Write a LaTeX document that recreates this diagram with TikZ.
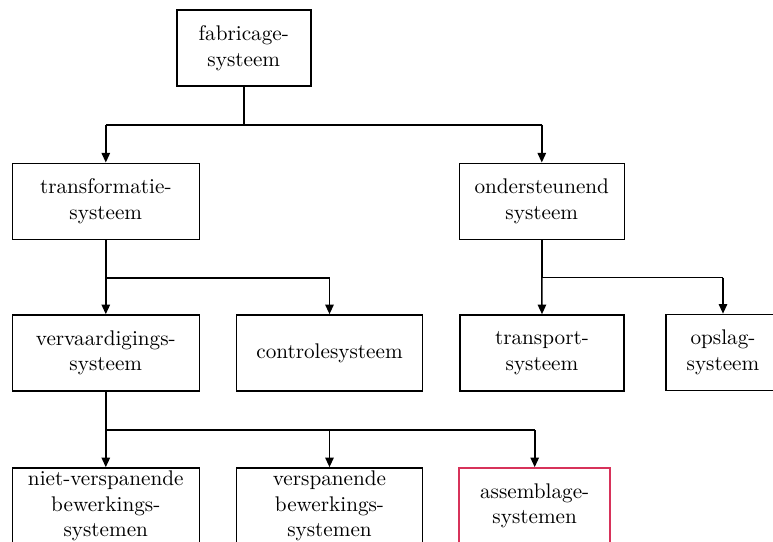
\documentclass[tikz,border=0pt]{standalone}
\usetikzlibrary{arrows.meta}
\definecolor{accent}{RGB}{215,50,90}
\begin{document}
\begin{tikzpicture}[x=0.5pt,y=-0.5pt,
  sysbox/.style={draw, line width=0.8pt, minimum height=38pt, inner sep=0pt,
    align=center, font=\fontsize{10.6}{12.75}\selectfont},
  link/.style={line width=0.8pt},
  feed/.style={line width=0.8pt, -{Triangle[width=4.2pt,length=4.8pt]}}]
  \useasboundingbox (0,0) rectangle (773,542);
  \clip (0,0) rectangle (773,542);

  % boxes
  \node[sysbox, minimum width=67pt]   (fab)    at (243.8,48)   {fabricage-\\systeem};
  \node[sysbox, minimum width=93.5pt] (trans)  at (105.8,201.3) {transformatie-\\systeem};
  \node[sysbox, minimum width=82.5pt] (onder)  at (541.8,201.3) {ondersteunend\\systeem};
  \node[sysbox, minimum width=93.5pt] (verv)   at (105.8,353)  {vervaardigings-\\systeem};
  \node[sysbox, minimum width=93pt]   (contr)  at (329.5,353)  {controlesysteem};
  \node[sysbox, minimum width=82pt]   (transp) at (542,353)    {transport-\\systeem};
  \node[sysbox, minimum width=57pt]   (opslag) at (723,352.5)  {opslag-\\systeem};
  \node[sysbox, minimum width=93.5pt] (niet)   at (105.8,506)  {niet-verspanende\\bewerkings-\\systemen};
  \node[sysbox, minimum width=93pt]   (versp)  at (329.5,506)  {verspanende\\bewerkings-\\systemen};
  \node[sysbox, minimum width=75.5pt, draw=accent] (assem) at (534.7,506) {assemblage-\\systemen};

  % branch points
  \coordinate (b1) at (243.8,124.7);
  \coordinate (b2) at (105.8,277.7);
  \coordinate (b3) at (541.8,277.5);
  \coordinate (b4) at (105.8,430);

  % fabricagesysteem
  \draw[link] (fab.south) -- (b1);
  \draw[link] (trans.north |- b1) -- (onder.north |- b1);
  \draw[feed] (trans.north |- b1) -- (trans.north);
  \draw[feed] (onder.north |- b1) -- (onder.north);

  % transformatiesysteem
  \draw[link] (trans.south) -- (b2);
  \draw[link] (b2) -- (contr.north |- b2);
  \draw[feed] (b2) -- (verv.north);
  \draw[feed] (contr.north |- b2) -- (contr.north);

  % ondersteunend systeem
  \draw[link] (onder.south) -- (b3);
  \draw[link] (b3) -- (opslag.north |- b3);
  \draw[feed] (b3) -- (transp.north);
  \draw[feed] (opslag.north |- b3) -- (opslag.north);

  % vervaardigingssysteem
  \draw[link] (verv.south) -- (b4);
  \draw[link] (b4) -- (assem.north |- b4);
  \draw[feed] (b4) -- (niet.north);
  \draw[feed] (versp.north |- b4) -- (versp.north);
  \draw[feed] (assem.north |- b4) -- (assem.north);
\end{tikzpicture}
\end{document}
